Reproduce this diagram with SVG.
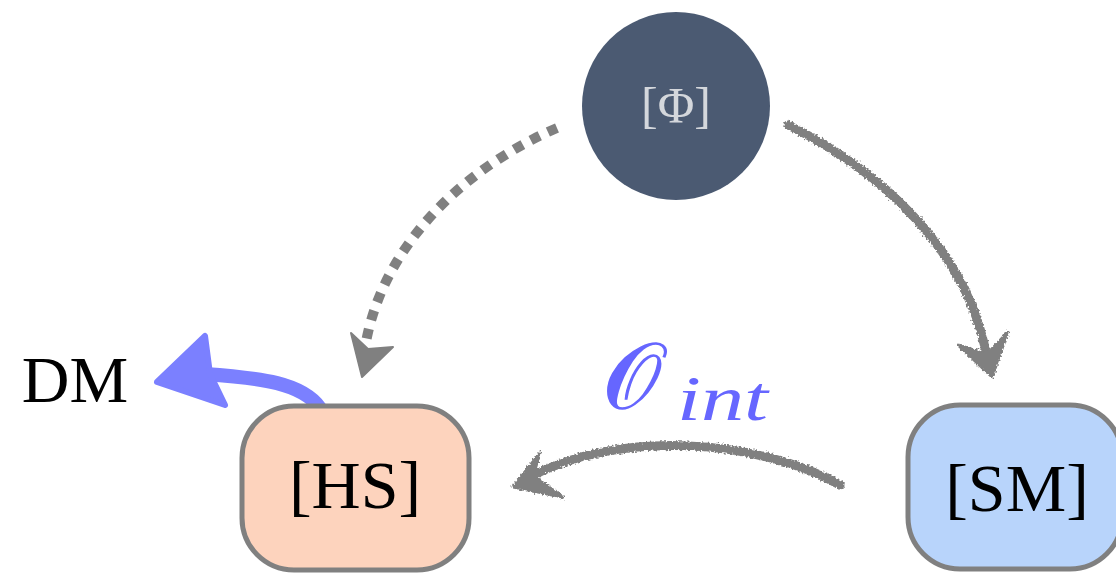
<svg xmlns="http://www.w3.org/2000/svg" width="1116" height="573" viewBox="0 0 1116 573">
<defs>
<style>
.box{stroke:#808080;stroke-width:5}
.lbl{font-family:"Liberation Serif","DejaVu Serif",serif;fill:#000;text-anchor:middle}
.sketch{fill:none;stroke:#808080;stroke-width:9;stroke-linecap:round;filter:url(#rough)}
.sketchhead{fill:#808080;stroke:#808080;stroke-width:3;stroke-linejoin:round;filter:url(#rough)}
</style>
<filter id="rough" x="-20%" y="-20%" width="140%" height="140%">
<feTurbulence type="fractalNoise" baseFrequency="0.5" numOctaves="2" seed="3" result="n"/>
<feDisplacementMap in="SourceGraphic" in2="n" scale="6" xChannelSelector="R" yChannelSelector="G"/>
</filter>
</defs>
<g id="connectors">
<path d="M557,128 C470,165 385,240 366,342" fill="none" stroke="#808080" stroke-width="10" stroke-dasharray="10 9"/>
<polygon points="362,377 351,333 368,349 393,347" fill="#808080" stroke="#808080" stroke-width="2" stroke-linejoin="round"/>
<path class="sketch" d="M788,125 C880,170 968,250 987,358"/>
<polygon class="sketchhead" points="992,377 958,345 987,354 1008,332"/>
<path class="sketch" d="M840,485 C760,440 620,428 528,478"/>
<polygon class="sketchhead" points="513,487 540,453 533,476 563,497"/>
<path d="M320,408 C302,383 262,378 205,374" fill="none" stroke="#7b80ff" stroke-width="14" stroke-linecap="round"/>
<polygon points="157,382 205,336 210,374 225,405" fill="#7b80ff" stroke="#7b80ff" stroke-width="6" stroke-linejoin="round"/>
</g>
<g id="phi">
<circle cx="676" cy="106" r="94" fill="#4b5a72"/>
<text class="lbl" x="676" y="122" font-size="50" style="fill:#d4d7dc">[Φ]</text>
</g>
<g id="hs">
<rect class="box" x="242" y="406" width="227" height="164" rx="52" fill="#fdd3bd"/>
<text class="lbl" x="355" y="508" font-size="68">[HS]</text>
</g>
<g id="sm">
<rect class="box" x="908" y="405" width="214" height="164" rx="52" fill="#b8d4fb"/>
<text class="lbl" x="1017" y="511" font-size="68">[SM]</text>
</g>
<g id="dm">
<text class="lbl" x="75" y="402" font-size="66">DM</text>
</g>
<g id="oint">
<text x="603" y="408" font-family="'DejaVu Serif','Liberation Serif',serif" font-size="92" fill="#6666ff" stroke="#6666ff" stroke-width="1.5">𝒪</text>
<text x="677" y="420" font-family="'Liberation Serif',serif" font-style="italic" font-size="64" fill="#6666ff" textLength="91" lengthAdjust="spacingAndGlyphs">int</text>
</g>
</svg>
